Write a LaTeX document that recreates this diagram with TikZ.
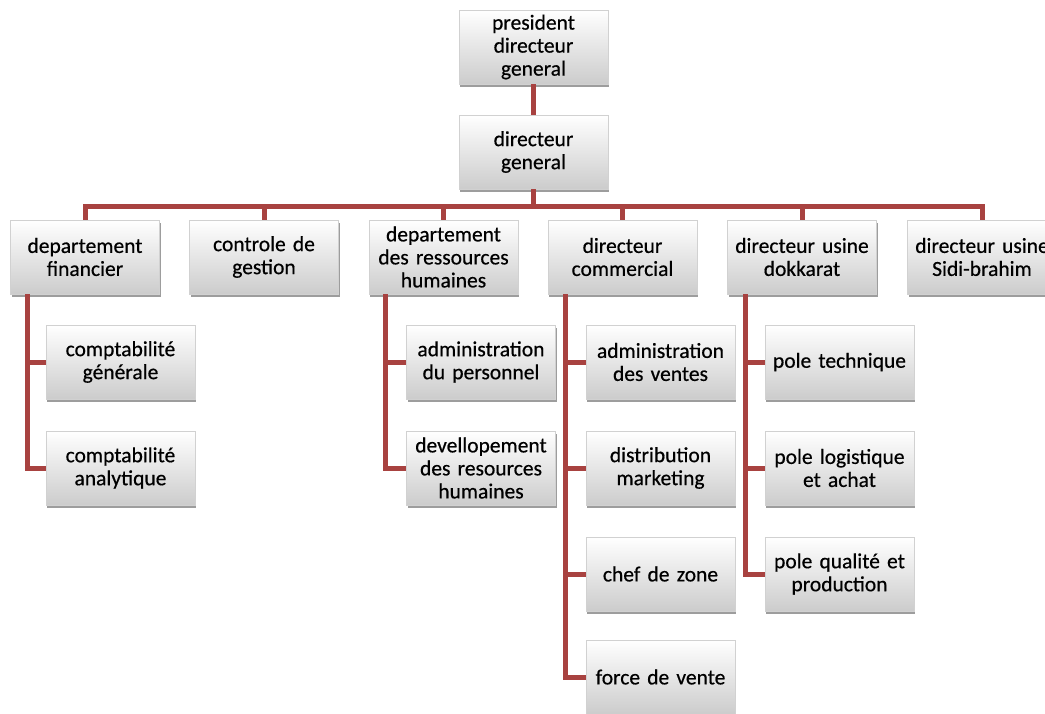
\documentclass[tikz,border=0pt]{standalone}
\usepackage{fontspec}
\setmainfont{Carlito}
\newfontfamily\boxfont{Carlito}[FakeBold=0.5]
\usetikzlibrary{shadows}
\definecolor{conn}{RGB}{168,66,64}
\tikzset{
  box/.style={rectangle, minimum width=149pt, minimum height=74pt, inner sep=0pt,
    text width=147pt, align=center, font=\boxfont\fontsize{21.5}{23}\selectfont,
    shading=axis, top color=white, bottom color=black!20, draw=black!18, line width=0.6pt,
    drop shadow={shadow xshift=1pt, shadow yshift=-2.5pt, opacity=0.55, fill=black!70}},
  link/.style={draw=conn, line width=5pt, line join=miter},
}
\begin{document}
\begin{tikzpicture}[x=1pt,y=-1pt]
\useasboundingbox (0,0) rectangle (1045,713);
% top
\node[box] (pdg) at (533.5,47) {president\\directeur\\general};
\node[box] (dg) at (533.5,152) {directeur\\general};
% row 1
\node[box] (fin) at (85,257) {departement\\financier};
\node[box] (cg) at (264,257) {controle de\\gestion};
\node[box] (rh) at (443.5,257) {departement\\des ressources\\humaines};
\node[box] (com) at (622.5,257) {directeur\\commercial};
\node[box] (dok) at (802,257) {directeur usine\\dokkarat};
\node[box] (sidi) at (982,257) {directeur usine\\Sidi-brahim};
% finance children
\node[box] (cgen) at (120.5,362) {comptabilité\\générale};
\node[box] (cana) at (120.5,468) {comptabilité\\analytique};
% RH children
\node[box] (adp) at (481,362) {administration\\du personnel};
\node[box] (dev) at (481,468) {devellopement\\des resources\\humaines};
% commercial children
\node[box] (adv) at (660.5,362) {administration\\des ventes};
\node[box] (dist) at (660.5,468) {distribution\\marketing};
\node[box] (chef) at (660.5,574) {chef de zone};
\node[box] (force) at (660.5,677) {force de vente};
% dokkarat children
\node[box] (tech) at (839.5,362) {pole technique};
\node[box] (logi) at (839.5,468) {pole logistique\\et achat};
\node[box] (qual) at (839.5,574) {pole qualité et\\production};
% connectors
\path[link] (pdg.south) -- (dg.north);
\foreach \n in {fin,cg,rh,com,dok,sidi}{
  \path[link] (\n.north) -- ++(0,-13) -| (dg.south);
}
\path[link] ([xshift=17pt]fin.south west) |- (cgen.west);
\path[link] ([xshift=17pt]fin.south west) |- (cana.west);
\path[link] ([xshift=17pt]rh.south west) |- (adp.west);
\path[link] ([xshift=17pt]rh.south west) |- (dev.west);
\foreach \n in {adv,dist,chef,force}{
  \path[link] ([xshift=18pt]com.south west) |- (\n.west);
}
\foreach \n in {tech,logi,qual}{
  \path[link] ([xshift=18pt]dok.south west) |- (\n.west);
}
\end{tikzpicture}
\end{document}
